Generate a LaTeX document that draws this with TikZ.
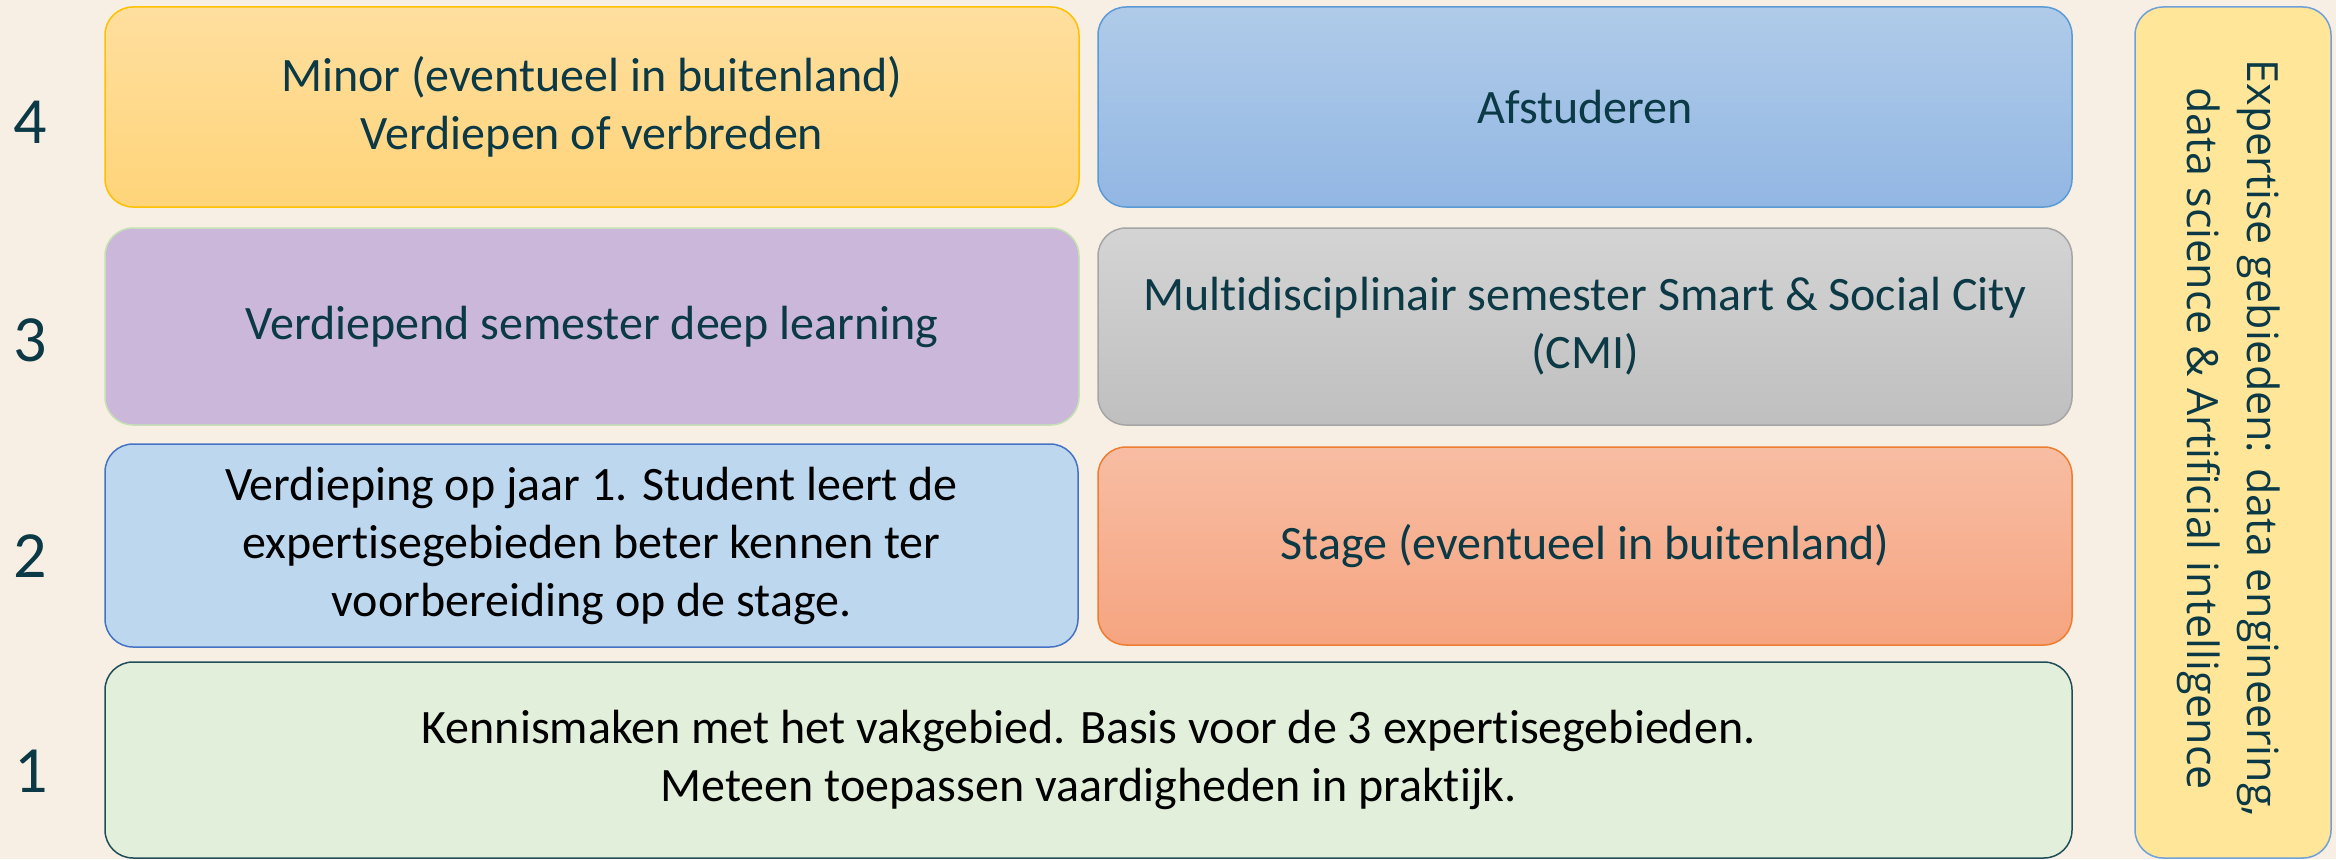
\documentclass[tikz,border=0pt]{standalone}
\usepackage{fontspec}
\setmainfont{Carlito}[Ligatures={NoCommon}]
\newfontfamily\opensans{Open Sans}
\definecolor{bgc}{HTML}{F7EFE3}
\definecolor{tealtext}{HTML}{0B3945}
\definecolor{minortop}{HTML}{FFDF9F}
\definecolor{minorbot}{HTML}{FFD479}
\definecolor{minorln}{HTML}{FFC000}
\definecolor{afsttop}{HTML}{B0CBE9}
\definecolor{afstbot}{HTML}{92B7E3}
\definecolor{afstln}{HTML}{5B9BD5}
\definecolor{purplefill}{HTML}{CBB7DA}
\definecolor{purpleln}{HTML}{C5E0B4}
\definecolor{graytop}{HTML}{D4D4D4}
\definecolor{graybot}{HTML}{BFBFBF}
\definecolor{grayln}{HTML}{A5A5A5}
\definecolor{bluefill}{HTML}{BDD7EE}
\definecolor{blueln}{HTML}{4472C4}
\definecolor{stagetop}{HTML}{F7BDA3}
\definecolor{stagebot}{HTML}{F6A480}
\definecolor{stageln}{HTML}{ED7D31}
\definecolor{greenfill}{HTML}{E2EFDA}
\definecolor{greenln}{HTML}{1F4E5A}
\definecolor{yelfill}{HTML}{FFE699}
\definecolor{yelln}{HTML}{6FA0D8}
\tikzset{
  card/.style={rounded corners=28pt, line width=1.5pt, inner sep=0pt, outer sep=0pt,
    align=center, text=tealtext,
    font=\fontsize{48pt}{58pt}\selectfont},
  wide/.style={minimum width=974pt},
  yearnum/.style={text=tealtext, font=\fontsize{66pt}{70pt}\selectfont, inner sep=0pt},
}
\begin{document}
\begin{tikzpicture}[x=1pt,y=-1pt]
\fill[bgc] (0,0) rectangle (2336,859);
\useasboundingbox (0,0) rectangle (2336,859);

\node[card, wide, minimum height=200pt, draw=minorln, top color=minortop, bottom color=minorbot]
  (minor) at (592,107) {Minor (eventueel in buitenland)\\Verdiepen of verbreden};
\node[card, wide, minimum height=200pt, draw=afstln, top color=afsttop, bottom color=afstbot]
  (afst) at (1585,107) {Afstuderen};
\node[card, wide, minimum height=197pt, draw=purpleln, fill=purplefill]
  (deep) at (592,326.5) {Verdiepend semester deep learning};
\node[card, wide, minimum height=197pt, draw=grayln, top color=graytop, bottom color=graybot]
  (cmi) at (1585,326.5) {Multidisciplinair semester Smart \& Social City\\(CMI)};
\node[card, minimum width=973pt, minimum height=203pt, draw=blueln, fill=bluefill, text=black]
  (verd) at (591.5,545.5) {Verdieping op jaar 1. Student leert de\\expertisegebieden beter kennen ter\\voorbereiding op de stage.};
\node[card, wide, minimum height=198pt, draw=stageln, top color=stagetop, bottom color=stagebot]
  (stage) at (1585,546) {Stage (eventueel in buitenland)};
\node[card, minimum width=1967pt, minimum height=196pt, draw=greenln, fill=greenfill, text=black]
  (basis) at (1088.5,760) {Kennismaken met het vakgebied. Basis voor de 3 expertisegebieden.\\Meteen toepassen vaardigheden in praktijk.};
\node[card, minimum width=196pt, minimum height=851pt, draw=yelln, fill=yelfill]
  (exp) at (2233,432.5) {};
\node[text=tealtext, align=center, rotate=-90, inner sep=0pt,
  font=\opensans\fontsize{43pt}{60pt}\selectfont]
  (exptext) at ([xshift=-4pt,yshift=-6pt]exp.center) {Expertise gebieden: data engineering,\\data science \& Artificial intelligence};

\node[yearnum] (y4) at (30,122) {4};
\node[yearnum] (y3) at (30,340) {3};
\node[yearnum] (y2) at (30,556) {2};
\node[yearnum] (y1) at (31,771) {1};
\end{tikzpicture}
\end{document}
